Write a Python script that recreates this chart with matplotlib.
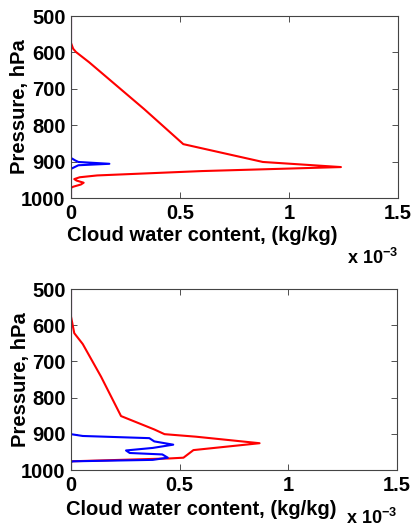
import numpy as np
import matplotlib
matplotlib.use('Agg')
import matplotlib.pyplot as plt

plt.rcParams['font.family'] = ['Liberation Sans', 'DejaVu Sans']
plt.rcParams['font.weight'] = 'bold'
plt.rcParams['mathtext.default'] = 'bf'
plt.rcParams['mathtext.fontset'] = 'custom'
plt.rcParams['mathtext.bf'] = 'Liberation Sans:bold'
plt.rcParams['mathtext.rm'] = 'Liberation Sans:bold'

# values in units of 1e-3 kg/kg, pressure in hPa
# top panel
p_top_red = [500, 574, 590, 599, 627, 756, 852, 901, 915, 926, 938, 943, 948, 952, 958, 963, 969, 972, 1000]
q_top_red = [0, 0, 0.01, 0.023, 0.083, 0.336, 0.515, 0.88, 1.238, 0.6, 0.12, 0.04, 0.015, 0.025, 0.058, 0.045, 0.01, 0, 0]
p_top_blue = [500, 890, 897, 901, 906, 910, 914, 920, 1000]
q_top_blue = [0, 0, 0.02, 0.034, 0.176, 0.034, 0.02, 0, 0]

# bottom panel
p_bot_red = [500, 576, 622, 652, 742, 851, 888, 901, 908, 926, 945, 966, 968, 976, 1000]
q_bot_red = [0, 0, 0.015, 0.054, 0.138, 0.23, 0.383, 0.43, 0.575, 0.867, 0.563, 0.517, 0.455, 0, 0]
p_bot_blue = [500, 901, 906, 912, 921, 930, 939, 946, 953, 957, 966, 972, 976, 978, 1000]
q_bot_blue = [0, 0, 0.054, 0.36, 0.383, 0.47, 0.376, 0.253, 0.27, 0.42, 0.445, 0.376, 0.008, 0, 0]

xticks = [0, 0.5, 1, 1.5]
xticklabels = ['0', '0.5', '1', '1.5']
yticks = [500, 600, 700, 800, 900, 1000]

fig = plt.figure(figsize=(4.14, 5.3), dpi=100)
ax1 = fig.add_axes([0.1715, 0.6264, 0.790, 0.3434])
ax2 = fig.add_axes([0.1715, 0.1132, 0.788, 0.3415])

# (axes, red x, red p, blue x, blue p, xlabel y, exponent y)
panels = [(ax1, q_top_red, p_top_red, q_top_blue, p_top_blue, -0.205, -0.33),
          (ax2, q_bot_red, p_bot_red, q_bot_blue, p_bot_blue, -0.22, -0.265)]

for ax, qr, pr, qb, pb, xly, expy in panels:
    ax.plot(qr, pr, color='red', lw=1.5)
    ax.plot(qb, pb, color='blue', lw=1.5)
    ax.set_xlim(0, 1.5)
    ax.set_ylim(1000, 500)
    ax.set_xticks(xticks)
    ax.set_xticklabels(xticklabels)
    ax.set_yticks(yticks)
    ax.tick_params(direction='in', top=True, right=True, length=4,
                   width=0.6, color='#333333', labelsize=14.5, pad=4)
    for s in ax.spines.values():
        s.set_color('#444444')
        s.set_linewidth(0.8)
    ax.set_xlabel('Cloud water content, (kg/kg)', fontsize=14.5,
                  fontweight='bold', va='center')
    ax.xaxis.set_label_coords(0.40, xly)
    ax.set_ylabel('Pressure, hPa', fontsize=14.5, fontweight='bold', va='center')
    ax.yaxis.set_label_coords(-0.156, 0.5)
    ax.text(0.844, expy, r'x 10$^{\mathbf{-3}}$', transform=ax.transAxes,
            fontsize=13, fontweight='bold', ha='left', va='center')

fig.savefig('out.png', dpi=100)
